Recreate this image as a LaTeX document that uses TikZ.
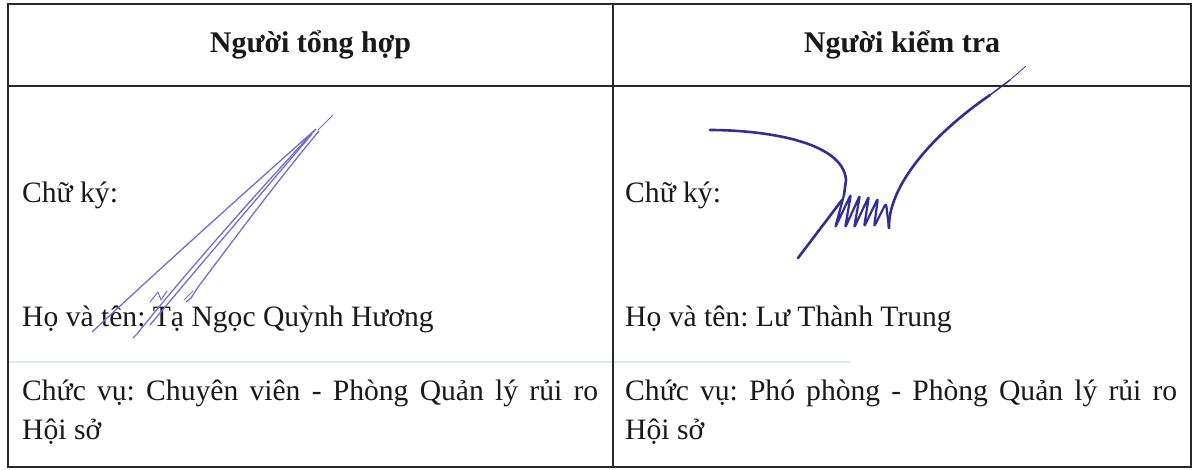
\documentclass[tikz,border=0pt]{standalone}
\usepackage{fontspec}
\setmainfont{Liberation Serif}
\frenchspacing
\definecolor{rule}{RGB}{40,40,40}
\definecolor{faint}{RGB}{224,230,240}
\definecolor{sigl}{RGB}{118,110,210}
\definecolor{sigr}{RGB}{50,46,150}
\begin{document}
\begin{tikzpicture}[x=1pt,y=-1pt,
  hdr/.style={anchor=base,inner sep=0pt,font=\fontsize{30pt}{36pt}\selectfont\bfseries,text=black!90},
  body/.style={anchor=base west,inner sep=0pt,font=\fontsize{29.6pt}{39pt}\selectfont,text=black!90},
  tblline/.style={draw=rule,line width=1.8pt},
  inkl/.style={draw=sigl,line width=1.3pt,line cap=round,line join=round},
  inkr/.style={draw=sigr,line width=2.6pt,line cap=round,line join=round}]
\useasboundingbox[fill=white] (0,0) rectangle (1193,469);
% table
\draw[faint,line width=1.2pt] (8,362) -- (850,362);
\draw[tblline] (8,4) rectangle (1191,467);
\draw[tblline] (8,86) -- (1191,86);
\draw[tblline] (613,4) -- (613,467);
% header
\node[hdr] (h1) at (310.5,52) {Người tổng hợp};
\node[hdr] (h2) at (902,52) {Người kiểm tra};
% left column
\node[body] (ck1) at (22,202) {Chữ ký:};
\node[body] (ht1) at (22,326) {Họ và tên: Tạ Ngọc Quỳnh Hương};
\node[body] (cv1) at (22,400) {\makebox[576pt][s]{Chức vụ: Chuyên viên - Phòng Quản lý rủi ro}};
\node[body] (hs1) at (22,439) {Hội sở};
% right column
\node[body] (ck2) at (625,202) {Chữ ký:};
\node[body] (ht2) at (625,326) {Họ và tên: Lư Thành Trung};
\node[body] (cv2) at (625,400) {\makebox[552pt][s]{Chức vụ: Phó phòng - Phòng Quản lý rủi ro}};
\node[body] (hs2) at (625,439) {Hội sở};
% left signature
\draw[inkl] (92,332) .. controls (180,250) and (270,170) .. (316,129)
  .. controls (250,200) and (180,280) .. (137,334) -- (133,338);
\draw[inkl,line width=0.8pt] (333,115) -- (318,130);
\draw[inkl] (319,131) .. controls (270,190) and (230,245) .. (198,287) -- (191,298) -- (186,302);
\draw[inkl] (312,134) .. controls (260,195) and (200,265) .. (150,325);
\draw[inkl,line width=1pt] (150,302) -- (158,292) -- (161,300) -- (167,291);
\draw[inkl,line width=1pt] (184,300) -- (193,291);
% right signature
\draw[inkr] (710,130) .. controls (760,130) and (843,140) .. (846,180) -- (844,195);
\draw[inkr] (798,258) -- (842,200);
\draw[inkr,line width=2.2pt,rounded corners=3pt] (844,195) -- (835,228) -- (851,194) -- (845,228) -- (860,195)
  -- (854,228) -- (869,196) -- (864,227) -- (878,198) -- (874,227) -- (886,203) -- (889,228);
\draw[inkr] (889,228) .. controls (888,190) and (925,140) .. (990,95);
\draw[inkr,line width=1.4pt] (990,95) -- (1010,80);
\draw[inkr,line width=0.7pt] (1010,80) -- (1026,66);
\end{tikzpicture}
\end{document}
